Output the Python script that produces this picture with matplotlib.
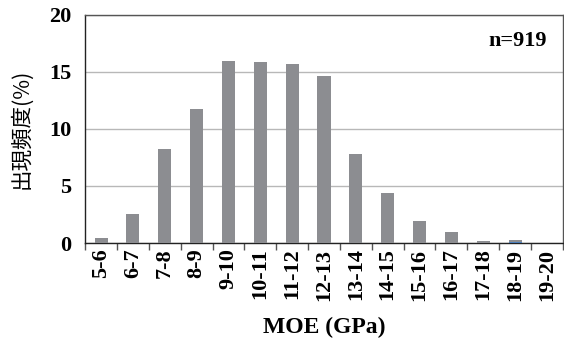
import matplotlib
matplotlib.use("Agg")
import matplotlib.pyplot as plt
import numpy as np

# MOE class frequency
classes = ['5-6', '6-7', '7-8', '8-9', '9-10', '10-11', '11-12', '12-13',
           '13-14', '14-15', '15-16', '16-17', '17-18', '18-19', '19-20']
freq = [0.46, 2.57, 8.27, 11.78, 15.97, 15.88, 15.7, 14.65,
        7.8, 4.39, 1.93, 0.96, 0.18, 0.26, 0.0]
# lower part of the 18-19 bar shown in blue
freq_blue = [0, 0, 0, 0, 0, 0, 0, 0, 0, 0, 0, 0, 0, 0.12, 0]
n_label = 'n=919'

serif = 'Liberation Serif'

fig = plt.figure(figsize=(5.64, 3.38), dpi=100)
ax = fig.add_axes([0.151, 0.281, 0.847, 0.675])

x = np.arange(len(classes))
ax.bar(x, freq, width=0.41, color='#8c8d91', zorder=3)
ax.bar(x, freq_blue, width=0.41, color='#4a7ebb', zorder=4)

ax.set_xlim(-0.5, len(classes) - 0.5)
ax.set_ylim(0, 20)
ax.set_yticks([0, 5, 10, 15, 20])
ax.yaxis.grid(True, color='#b8b8b8', linewidth=1.0, zorder=0)

# category ticks sit on the boundaries, labels in the middle
ax.set_xticks(np.arange(len(classes) + 1) - 0.5)
ax.set_xticklabels([])
ax.set_xticks(x, minor=True)
ax.set_xticklabels(classes, minor=True, rotation=90, fontfamily=serif,
                   fontweight='bold', fontsize=16)
ax.tick_params(axis='x', which='minor', length=0, pad=4)
ax.tick_params(axis='x', which='major', length=5, width=1, color='#555555')
ax.tick_params(axis='y', length=0, pad=10)
for lab in ax.get_yticklabels():
    lab.set_fontfamily(serif)
    lab.set_fontweight('bold')
    lab.set_fontsize(16)

for sp in ax.spines.values():
    sp.set_color('#555555')
    sp.set_linewidth(1.0)
ax.spines['left'].set_color('#222222')
ax.spines['bottom'].set_color('#222222')

ax.set_ylabel('出現頻度(%)', family=['Noto Sans CJK JP', 'DejaVu Sans'],
              fontsize=15.5, labelpad=12)
ax.set_xlabel('MOE (GPa)', fontfamily=serif, fontweight='bold',
              fontsize=17, labelpad=12)

ax.text(0.967, 0.885, n_label, transform=ax.transAxes, ha='right', va='center',
        fontfamily=serif, fontweight='bold', fontsize=16)

fig.savefig('out.png', dpi=100)
